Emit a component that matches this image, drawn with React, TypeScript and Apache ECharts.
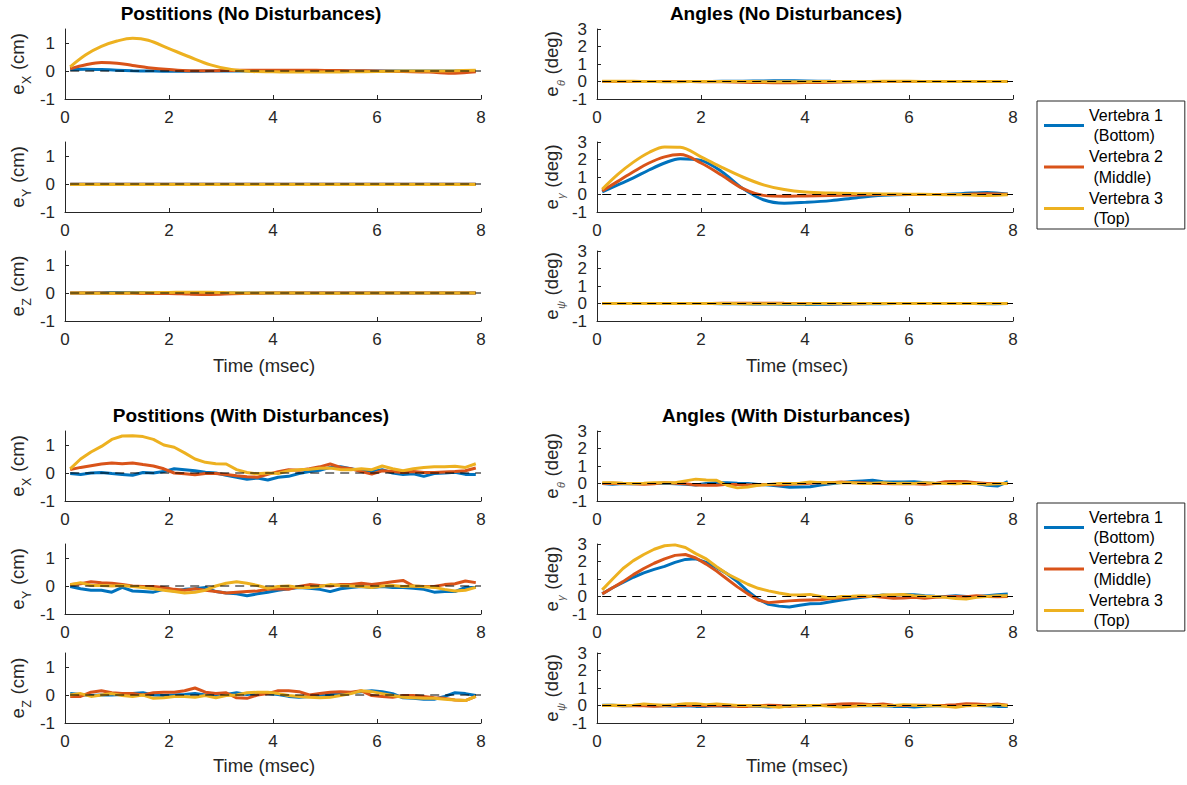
import React, { useEffect, useRef } from 'react';
import * as echarts from 'echarts';

// ---------- text / categories ----------
const SERIES_NAMES = ['Vertebra 1', 'Vertebra 2', 'Vertebra 3'];
const SERIES_SUBS = ['(Bottom)', '(Middle)', '(Top)'];
const TITLES = [
  'Postitions (No Disturbances)',
  'Angles (No Disturbances)',
  'Postitions (With Disturbances)',
  'Angles (With Disturbances)',
];
const X_LABEL = 'Time (msec)';
const POS_SUBS = ['X', 'Y', 'Z'];
const ANG_SUBS = ['θ', 'γ', 'ψ'];
const POS_UNIT = '(cm)';
const ANG_UNIT = '(deg)';
const X_TICKS = [0, 2, 4, 6, 8];
const POS_TICKS = [-1, 0, 1];
const ANG_TICKS = [-1, 0, 1, 2, 3];
const ZERO_T = [0.1, 8];

// ---------- time bases ----------
const T_SMOOTH = [0.1, 0.4, 0.7, 1.0, 1.3, 1.6, 2.0, 2.4, 2.8, 3.2, 3.6, 4.0, 4.5, 5.0, 5.5, 6.0, 6.5, 7.0, 7.5, 7.9];
const T_NOISY = [0.1, 0.3, 0.5, 0.7, 0.9, 1.1, 1.3, 1.5, 1.7, 1.9,
  2.1, 2.3, 2.5, 2.7, 2.9, 3.1, 3.3, 3.5, 3.7, 3.9,
  4.1, 4.3, 4.5, 4.7, 4.9, 5.1, 5.3, 5.5, 5.7, 5.9,
  6.1, 6.3, 6.5, 6.7, 6.9, 7.1, 7.3, 7.5, 7.7, 7.9];

// ---------- No disturbances ----------
const NX_V1 = [0.05, 0.06, 0.05, 0.03, 0.01, 0.0, -0.01, -0.01, 0.0, 0.0, 0.0, 0.01, 0.01, 0.01, 0.0, 0.0, 0.0, 0.0, 0.0, 0.0];
const NX_V2 = [0.08, 0.22, 0.3, 0.28, 0.2, 0.12, 0.05, 0.01, 0.01, 0.02, 0.03, 0.03, 0.03, 0.02, 0.01, 0.0, -0.02, -0.04, -0.08, -0.03];
const NX_V3 = [0.15, 0.58, 0.88, 1.07, 1.17, 1.1, 0.8, 0.5, 0.22, 0.05, -0.02, -0.03, -0.04, -0.04, -0.03, -0.02, 0.0, 0.0, 0.01, 0.03];
const NY_V1 = [-0.01, -0.01, -0.01, -0.01, -0.01, -0.01, -0.01, -0.01, -0.01, -0.01, -0.01, -0.01, -0.01, -0.01, -0.01, -0.01, -0.01, -0.01, -0.01, -0.01];
const NY_V2 = [-0.01, -0.01, -0.01, -0.01, -0.01, -0.01, -0.01, -0.01, -0.01, -0.01, -0.01, -0.01, -0.01, -0.01, -0.01, -0.01, -0.01, -0.01, -0.01, -0.01];
const NY_V3 = [-0.02, -0.02, -0.02, -0.02, -0.02, -0.02, -0.02, -0.02, -0.02, -0.02, -0.02, -0.02, -0.02, -0.02, -0.02, -0.02, -0.02, -0.02, -0.02, -0.02];
const NZ_V1 = [0.0, 0.0, 0.01, 0.02, 0.02, 0.01, 0.0, -0.01, -0.01, 0.0, 0.0, 0.0, 0.0, 0.0, 0.0, 0.0, 0.0, 0.0, 0.0, 0.0];
const NZ_V2 = [0.0, 0.0, 0.0, -0.01, -0.01, -0.02, -0.02, -0.04, -0.05, -0.03, -0.01, 0.0, 0.0, 0.0, 0.0, 0.0, 0.0, 0.0, 0.0, 0.0];
const NZ_V3 = [0.0, 0.0, -0.01, -0.01, 0.0, 0.01, 0.02, 0.03, 0.03, 0.01, 0.0, 0.0, 0.0, -0.01, -0.01, 0.0, 0.0, 0.0, 0.0, 0.0];
const NTH_V1 = [0.0, 0.0, 0.0, 0.0, 0.0, 0.0, 0.0, 0.01, 0.02, 0.03, 0.04, 0.03, 0.01, 0.0, 0.0, 0.0, 0.0, 0.0, 0.0, 0.0];
const NTH_V2 = [0.0, 0.0, 0.0, 0.0, 0.0, 0.0, -0.01, -0.02, -0.04, -0.06, -0.07, -0.06, -0.04, -0.02, 0.0, 0.0, 0.0, 0.0, 0.0, 0.0];
const NTH_V3 = [0.02, 0.02, 0.01, 0.0, -0.01, -0.01, 0.0, 0.0, 0.0, -0.01, -0.02, -0.01, 0.0, 0.0, 0.01, 0.01, 0.0, 0.0, 0.0, 0.0];
const NG_V1 = [0.15, 0.55, 0.95, 1.4, 1.8, 2.05, 1.95, 1.3, 0.35, -0.3, -0.5, -0.45, -0.35, -0.18, -0.05, 0.0, 0.0, 0.05, 0.12, 0.03];
const NG_V2 = [0.2, 0.75, 1.3, 1.8, 2.15, 2.28, 1.8, 1.1, 0.35, -0.05, -0.1, -0.08, -0.06, -0.03, 0.0, 0.0, 0.0, 0.0, 0.05, 0.02];
const NG_V3 = [0.3, 1.15, 1.85, 2.4, 2.72, 2.7, 2.15, 1.55, 1.0, 0.55, 0.28, 0.14, 0.08, 0.05, 0.03, 0.02, 0.0, -0.02, -0.05, -0.02];
const NPS_V1 = [0.0, 0.0, 0.0, 0.0, 0.0, 0.0, 0.0, -0.01, -0.02, -0.03, -0.04, -0.05, -0.04, -0.02, -0.01, 0.0, 0.0, 0.0, -0.01, 0.0];
const NPS_V2 = [0.0, 0.0, 0.0, 0.0, 0.0, 0.0, 0.0, 0.01, 0.02, 0.02, 0.01, 0.0, -0.01, -0.01, 0.0, 0.0, 0.0, 0.0, 0.0, 0.0];
const NPS_V3 = [0.0, 0.0, 0.0, 0.0, 0.0, 0.0, 0.0, 0.0, -0.01, -0.02, -0.02, -0.01, 0.0, 0.0, 0.0, 0.0, 0.0, 0.0, 0.0, 0.0];

// ---------- With disturbances ----------
const DX_V1 = [-0.02, -0.05, 0.0, 0.02, -0.02, -0.05, -0.08, 0.02, 0.0, 0.05,
  0.15, 0.12, 0.08, 0.03, 0.0, -0.08, -0.15, -0.22, -0.18, -0.25,
  -0.15, -0.12, -0.02, 0.05, 0.1, 0.2, 0.22, 0.15, 0.08, 0.05,
  0.12, 0.0, -0.05, -0.03, -0.12, -0.02, 0.0, 0.03, -0.05, -0.05];
const DX_V2 = [0.12, 0.2, 0.26, 0.32, 0.36, 0.33, 0.36, 0.3, 0.25, 0.15,
  0.0, -0.03, -0.06, -0.02, -0.02, -0.05, -0.1, -0.13, -0.15, -0.05,
  0.05, 0.12, 0.1, 0.15, 0.22, 0.32, 0.2, 0.15, 0.05, -0.04,
  0.08, 0.05, 0.02, 0.05, 0.02, 0.02, 0.04, 0.05, 0.08, 0.18];
const DX_V3 = [0.15, 0.5, 0.75, 0.95, 1.2, 1.32, 1.33, 1.3, 1.2, 1.0,
  0.92, 0.72, 0.5, 0.38, 0.33, 0.32, 0.12, 0.02, -0.03, 0.0,
  -0.02, 0.08, 0.12, 0.13, 0.17, 0.18, 0.12, 0.12, 0.15, 0.12,
  0.25, 0.15, 0.08, 0.15, 0.2, 0.22, 0.22, 0.24, 0.2, 0.33];
const DY_V1 = [-0.02, -0.1, -0.15, -0.15, -0.22, -0.05, -0.18, -0.2, -0.22, -0.12,
  -0.18, -0.12, -0.1, -0.05, -0.2, -0.25, -0.28, -0.35, -0.28, -0.22,
  -0.15, -0.1, -0.05, -0.08, -0.12, -0.2, -0.1, -0.05, -0.02, -0.05,
  -0.02, -0.05, -0.05, -0.08, -0.12, -0.22, -0.2, -0.2, -0.05, -0.05];
const DY_V2 = [0.05, 0.08, 0.15, 0.12, 0.1, 0.05, 0.0, -0.02, -0.02, -0.05,
  -0.12, -0.15, -0.1, -0.15, -0.2, -0.25, -0.22, -0.2, -0.18, -0.12,
  -0.1, -0.12, -0.02, 0.05, 0.02, 0.0, 0.05, 0.05, 0.1, 0.05,
  0.1, 0.15, 0.2, 0.0, -0.02, -0.02, 0.05, 0.08, 0.18, 0.12];
const DY_V3 = [0.05, 0.12, 0.02, 0.02, 0.0, 0.02, -0.02, -0.05, -0.1, -0.15,
  -0.2, -0.25, -0.22, -0.15, 0.0, 0.1, 0.15, 0.1, 0.02, -0.08,
  -0.02, 0.0, -0.05, -0.05, -0.02, 0.05, 0.02, 0.0, -0.02, -0.05,
  0.0, 0.02, -0.02, 0.0, -0.03, -0.05, -0.12, -0.18, -0.15, -0.05];
const DZ_V1 = [0.05, 0.02, -0.02, 0.0, 0.0, 0.02, 0.05, 0.08, 0.0, -0.02,
  0.0, 0.02, 0.05, 0.0, -0.02, 0.02, 0.08, 0.02, 0.05, 0.05,
  0.02, -0.05, -0.08, -0.05, 0.0, 0.02, 0.05, 0.08, 0.12, 0.15,
  0.12, 0.05, -0.1, -0.12, -0.15, -0.15, -0.05, 0.08, 0.05, -0.02];
const DZ_V2 = [-0.05, -0.05, 0.1, 0.15, 0.08, 0.05, 0.05, 0.0, 0.08, 0.1,
  0.1, 0.15, 0.25, 0.1, 0.05, 0.08, -0.1, -0.12, 0.0, 0.05,
  0.15, 0.15, 0.12, 0.0, 0.05, 0.1, 0.12, 0.1, 0.15, -0.02,
  -0.05, -0.08, -0.02, -0.02, -0.05, -0.1, -0.12, -0.18, -0.2, -0.05];
const DZ_V3 = [0.0, 0.05, -0.05, 0.0, 0.05, -0.02, -0.05, 0.0, -0.12, -0.1,
  -0.05, -0.05, -0.08, -0.02, -0.1, -0.02, 0.0, 0.08, 0.1, 0.1,
  0.05, -0.02, -0.05, -0.08, -0.1, -0.08, -0.02, 0.05, 0.15, 0.12,
  0.05, -0.02, -0.08, -0.1, -0.12, -0.12, -0.15, -0.18, -0.2, -0.05];
const DTH_V1 = [0.0, -0.05, 0.0, -0.02, 0.0, 0.0, 0.02, -0.02, -0.05, -0.08,
  0.0, 0.05, 0.05, 0.02, 0.0, -0.05, -0.08, -0.15, -0.22, -0.2,
  -0.18, -0.08, -0.02, 0.05, 0.12, 0.15, 0.18, 0.1, 0.08, 0.08,
  0.1, 0.05, 0.0, 0.05, 0.1, 0.08, 0.0, -0.1, -0.15, 0.1];
const DTH_V2 = [0.0, 0.02, 0.0, -0.02, -0.05, -0.02, 0.05, 0.02, -0.02, -0.08,
  -0.1, -0.1, -0.05, -0.05, -0.08, -0.08, -0.05, -0.08, -0.05, -0.02,
  0.02, 0.05, 0.05, 0.08, 0.05, 0.05, 0.02, 0.0, -0.02, 0.0,
  -0.02, -0.05, 0.0, 0.1, 0.12, 0.1, 0.05, 0.0, 0.0, 0.0];
const DTH_V3 = [0.05, 0.05, 0.02, 0.0, 0.02, 0.05, 0.05, 0.05, 0.15, 0.25,
  0.2, 0.18, -0.1, -0.25, -0.2, -0.1, -0.05, 0.0, 0.0, 0.02,
  0.08, 0.05, 0.05, 0.05, 0.05, 0.0, 0.02, 0.05, 0.0, 0.02,
  0.0, 0.05, 0.02, 0.0, -0.02, 0.02, 0.0, -0.05, -0.02, 0.0];
const DG_V1 = [0.15, 0.5, 0.8, 1.1, 1.35, 1.55, 1.72, 1.95, 2.12, 2.15,
  1.95, 1.65, 1.3, 0.85, 0.3, -0.15, -0.45, -0.55, -0.6, -0.5,
  -0.42, -0.4, -0.3, -0.2, -0.12, -0.05, 0.02, 0.08, 0.05, 0.12,
  0.1, 0.05, 0.02, 0.0, 0.05, 0.0, 0.0, 0.05, 0.1, 0.15];
const DG_V2 = [0.15, 0.5, 0.85, 1.25, 1.6, 1.9, 2.15, 2.35, 2.4, 2.2,
  1.85, 1.45, 1.0, 0.55, 0.15, -0.2, -0.35, -0.3, -0.25, -0.22,
  -0.2, -0.18, -0.12, -0.08, -0.02, 0.0, 0.02, -0.05, -0.1, -0.08,
  -0.05, -0.1, -0.05, -0.02, 0.0, -0.02, 0.05, 0.0, -0.02, 0.0];
const DG_V3 = [0.38, 1.0, 1.6, 2.05, 2.4, 2.7, 2.9, 2.95, 2.8, 2.45,
  2.15, 1.7, 1.3, 1.0, 0.7, 0.47, 0.32, 0.2, 0.1, 0.08,
  0.12, 0.0, -0.08, 0.0, 0.02, 0.05, 0.0, 0.08, 0.1, 0.12,
  0.05, 0.02, 0.0, -0.05, -0.12, -0.15, -0.05, 0.0, 0.05, 0.05];
const DPS_V1 = [0.02, 0.02, -0.02, 0.0, 0.0, -0.02, -0.02, -0.05, -0.02, -0.05,
  -0.05, -0.02, -0.05, -0.02, -0.02, -0.05, -0.08, -0.05, -0.02, 0.0,
  -0.02, 0.0, 0.0, 0.02, 0.0, -0.02, 0.0, -0.02, -0.05, -0.05,
  -0.08, -0.05, -0.02, 0.0, -0.02, 0.0, 0.0, -0.02, -0.05, -0.05];
const DPS_V2 = [0.0, 0.0, -0.02, 0.0, -0.02, -0.05, -0.02, 0.0, 0.02, 0.0,
  -0.02, 0.0, -0.02, -0.05, -0.05, -0.02, 0.02, 0.0, -0.05, -0.02,
  0.0, 0.02, 0.05, 0.08, 0.1, 0.08, 0.05, 0.08, 0.02, 0.0,
  0.02, 0.02, 0.0, 0.02, 0.05, 0.1, 0.08, 0.05, 0.08, 0.02];
const DPS_V3 = [0.0, 0.02, 0.0, 0.02, 0.08, 0.05, 0.02, 0.05, 0.1, 0.1,
  0.05, 0.08, 0.05, 0.0, 0.0, -0.02, -0.05, -0.1, -0.02, 0.0,
  0.0, 0.0, -0.05, -0.08, -0.05, 0.0, 0.02, -0.02, 0.0, 0.05,
  0.02, -0.02, 0.0, -0.05, -0.1, -0.02, 0.0, 0.02, 0.05, -0.02];

// ---------- layout / style ----------
const COLORS = ['#0072BD', '#D95319', '#EDB120'];
const FONT = '"Liberation Sans", Arial, Helvetica, sans-serif';
const AXIS_COLOR = '#262626';
const COL_LEFT = [65, 597];
const GRID_W = 416;
const ROW_TOP = [29, 142, 251, 431, 544, 653];
const ROW_H = 70;
const YLABEL_X = [17, 551];
const TITLE_POS = [[251, 13.5], [786, 13.5], [251, 415], [786, 415]];
const XLABEL_POS = [[264, 365], [797, 365], [264, 765], [797, 765]];
const LEGEND_TOPS = [101, 503];

type Plot = { col: number; row: number; kind: 'pos' | 'ang'; sub: string; t: number[]; vals: number[][]; smooth: boolean };
const PLOTS: Plot[] = [
  { col: 0, row: 0, kind: 'pos', sub: POS_SUBS[0], t: T_SMOOTH, vals: [NX_V1, NX_V2, NX_V3], smooth: true },
  { col: 0, row: 1, kind: 'pos', sub: POS_SUBS[1], t: T_SMOOTH, vals: [NY_V1, NY_V2, NY_V3], smooth: true },
  { col: 0, row: 2, kind: 'pos', sub: POS_SUBS[2], t: T_SMOOTH, vals: [NZ_V1, NZ_V2, NZ_V3], smooth: true },
  { col: 1, row: 0, kind: 'ang', sub: ANG_SUBS[0], t: T_SMOOTH, vals: [NTH_V1, NTH_V2, NTH_V3], smooth: true },
  { col: 1, row: 1, kind: 'ang', sub: ANG_SUBS[1], t: T_SMOOTH, vals: [NG_V1, NG_V2, NG_V3], smooth: true },
  { col: 1, row: 2, kind: 'ang', sub: ANG_SUBS[2], t: T_SMOOTH, vals: [NPS_V1, NPS_V2, NPS_V3], smooth: true },
  { col: 0, row: 3, kind: 'pos', sub: POS_SUBS[0], t: T_NOISY, vals: [DX_V1, DX_V2, DX_V3], smooth: false },
  { col: 0, row: 4, kind: 'pos', sub: POS_SUBS[1], t: T_NOISY, vals: [DY_V1, DY_V2, DY_V3], smooth: false },
  { col: 0, row: 5, kind: 'pos', sub: POS_SUBS[2], t: T_NOISY, vals: [DZ_V1, DZ_V2, DZ_V3], smooth: false },
  { col: 1, row: 3, kind: 'ang', sub: ANG_SUBS[0], t: T_NOISY, vals: [DTH_V1, DTH_V2, DTH_V3], smooth: false },
  { col: 1, row: 4, kind: 'ang', sub: ANG_SUBS[1], t: T_NOISY, vals: [DG_V1, DG_V2, DG_V3], smooth: false },
  { col: 1, row: 5, kind: 'ang', sub: ANG_SUBS[2], t: T_NOISY, vals: [DPS_V1, DPS_V2, DPS_V3], smooth: false },
];

let measureCtx: CanvasRenderingContext2D | null = null;
function measure(text: string, font: string): number {
  if (!measureCtx) measureCtx = document.createElement('canvas').getContext('2d');
  if (!measureCtx) return text.length * 8;
  measureCtx.font = font;
  return measureCtx.measureText(text).width;
}

function textStyle(text: string, font: string, fill: string, align = 'left', vAlign = 'middle') {
  return { text, font, fill, align, verticalAlign: vAlign, textAlign: align, textVerticalAlign: vAlign };
}

function yLabel(cx: number, cy: number, sub: string, unit: string, greek: boolean) {
  const mainFont = `18.5px ${FONT}`;
  const subFont = greek ? `italic 11px ${FONT}` : `12.5px ${FONT}`;
  const rest = ' ' + unit;
  const we = measure('e', mainFont);
  const ws = measure(sub, subFont) + 1;
  const wr = measure(rest, mainFont);
  const start = -(we + ws + wr) / 2;
  return {
    type: 'group', x: cx, y: cy, rotation: Math.PI / 2, silent: true,
    children: [
      { type: 'text', x: start, y: 0, style: textStyle('e', mainFont, AXIS_COLOR) },
      { type: 'text', x: start + we + 0.5, y: 10, style: textStyle(sub, subFont, greek ? '#555555' : AXIS_COLOR) },
      { type: 'text', x: start + we + ws, y: 0, style: textStyle(rest, mainFont, AXIS_COLOR) },
    ],
  };
}

function axisCommon(ticks: number[]) {
  return {
    axisLine: { show: true, onZero: false, lineStyle: { color: AXIS_COLOR, width: 1 } },
    axisTick: { show: true, inside: true, length: 4, customValues: ticks, lineStyle: { color: AXIS_COLOR, width: 1 } },
    axisLabel: { customValues: ticks, fontSize: 17, color: AXIS_COLOR, fontFamily: FONT, margin: 10 },
    splitLine: { show: false },
  };
}

function buildOption() {
  const grid: any[] = [];
  const xAxis: any[] = [];
  const yAxis: any[] = [];
  const series: any[] = [];
  const elements: any[] = [];

  PLOTS.forEach((p, k) => {
    grid.push({ left: COL_LEFT[p.col], top: ROW_TOP[p.row], width: GRID_W, height: ROW_H });
    xAxis.push({ gridIndex: k, type: 'value', min: 0, max: 8, position: 'bottom', ...axisCommon(X_TICKS) });
    const yTicks = p.kind === 'pos' ? POS_TICKS : ANG_TICKS;
    yAxis.push({ gridIndex: k, type: 'value', min: -1, max: p.kind === 'pos' ? 1.5 : 3, position: 'left', ...axisCommon(yTicks) });
    p.vals.forEach((v, i) => {
      series.push({
        type: 'line', name: SERIES_NAMES[i], xAxisIndex: k, yAxisIndex: k,
        data: p.t.map((t, j) => [t, v[j]]),
        smooth: p.smooth ? 0.35 : false, symbol: 'none', showSymbol: false,
        lineStyle: { color: COLORS[i], width: 3 }, itemStyle: { color: COLORS[i] },
        z: 2, silent: true,
      });
    });
    series.push({
      type: 'line', name: 'zero', xAxisIndex: k, yAxisIndex: k,
      data: ZERO_T.map((t) => [t, 0]), symbol: 'none',
      lineStyle: { color: '#000000', width: 1.1, type: [9, 6] }, z: 3, silent: true,
    });
    const cy = ROW_TOP[p.row] + ROW_H / 2;
    elements.push(yLabel(YLABEL_X[p.col], cy, p.sub, p.kind === 'pos' ? POS_UNIT : ANG_UNIT, p.kind === 'ang'));
  });

  TITLES.forEach((t, i) => {
    elements.push({ type: 'text', x: TITLE_POS[i][0], y: TITLE_POS[i][1], silent: true,
      style: textStyle(t, `bold 19px ${FONT}`, '#000000', 'center', 'middle') });
  });
  XLABEL_POS.forEach((pos) => {
    elements.push({ type: 'text', x: pos[0], y: pos[1], silent: true,
      style: textStyle(X_LABEL, `18.5px ${FONT}`, AXIS_COLOR, 'center', 'middle') });
  });

  const legend = LEGEND_TOPS.map((top) => ({
    show: true, orient: 'vertical', left: 1037, top,
    data: SERIES_NAMES.map((n) => ({ name: n, icon: 'rect' })),
    formatter: (n: string) => n + '\n ' + SERIES_SUBS[SERIES_NAMES.indexOf(n)],
    itemWidth: 40, itemHeight: 3, itemGap: 0.5,
    padding: [4, 22, 0, 7],
    borderColor: AXIS_COLOR, borderWidth: 1, borderRadius: 0,
    backgroundColor: '#ffffff',
    selectedMode: false,
    itemStyle: { borderWidth: 0 },
    textStyle: { fontSize: 16, lineHeight: 20.5, color: '#000000', fontFamily: FONT },
  }));

  return {
    animation: false,
    backgroundColor: '#ffffff',
    textStyle: { fontFamily: FONT },
    grid, xAxis, yAxis, series, legend,
    graphic: { elements },
  };
}

export default function App() {
  const ref = useRef<HTMLDivElement>(null);
  useEffect(() => {
    document.body.style.margin = '0';
    document.body.style.overflow = 'hidden';
    const chart = echarts.init(ref.current as HTMLDivElement, null, { renderer: 'svg' });
    chart.setOption(buildOption() as any);
    return () => chart.dispose();
  }, []);
  return <div ref={ref} style={{ width: 1187, height: 785 }} />;
}
